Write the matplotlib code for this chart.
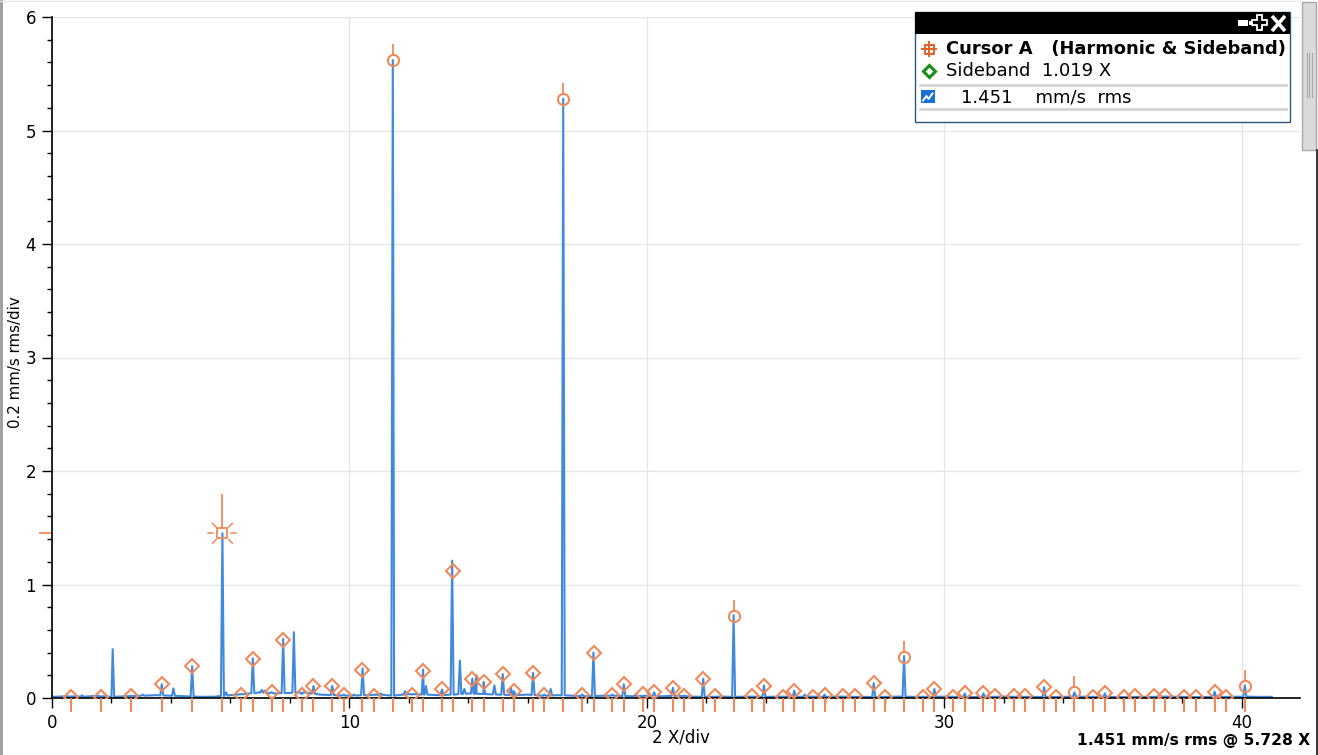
import numpy as np
import matplotlib.pyplot as plt
from matplotlib.patches import Rectangle, Polygon
from matplotlib.ticker import MultipleLocator

W, H = 1318, 755

# cursor readout
FUND = 5.728          # X
SB_SPACING = 1.019    # X
CURSOR_AMP = 1.451    # mm/s rms

# harmonic amplitudes (1x .. 7x fund)
harm_amp = [1.451, 5.62, 5.28, 0.725, 0.365, 0.05, 0.105]

# sideband amplitudes per harmonic, k = -5..-1 and +1..+5
sb_lower = [
    [0.01, 0.01, 0.015, 0.12, 0.28],
    [0.03, 0.05, 0.03, 0.105, 0.25],
    [0.025, 0.075, 0.17, 0.21, 0.22],
    [0.03, 0.03, 0.035, 0.085, 0.17],
    [0.02, 0.01, 0.01, 0.015, 0.13],
    [0.01, 0.01, 0.04, 0.015, 0.095],
    [0.01, 0.01, 0.015, 0.01, 0.055],
]
sb_upper = [
    [0.34, 0.51, 0.105, 0.03, 0.02],
    [0.24, 1.12, 0.14, 0.06, 0.03],
    [0.40, 0.12, 0.05, 0.02, 0.02],
    [0.11, 0.065, 0.03, 0.015, 0.01],
    [0.08, 0.04, 0.015, 0.015, 0.01],
    [0.04, 0.015, 0.015, 0.01, 0.01],
    [],
]

# spectrum: noise floor every 0.5 X, then the peaks on top of it
floor_x = np.arange(0, 41.05, 0.5)
floor_y = [0.010, 0.015, 0.012, 0.018, 0.010, 0.015, 0.020, 0.025, 0.020, 0.015,
           0.010, 0.012, 0.025, 0.035, 0.050, 0.040, 0.045, 0.050, 0.030, 0.025,
           0.020, 0.025, 0.030, 0.020, 0.035, 0.030, 0.025, 0.030, 0.040, 0.035,
           0.030, 0.025, 0.030, 0.020, 0.025, 0.020, 0.015, 0.020, 0.020, 0.015,
           0.020, 0.015, 0.020, 0.012, 0.010, 0.012, 0.010, 0.012, 0.010, 0.012,
           0.010, 0.012, 0.010, 0.012, 0.010, 0.008, 0.010, 0.012, 0.010, 0.010,
           0.012, 0.010, 0.008, 0.010, 0.012, 0.010, 0.010, 0.008, 0.010, 0.012,
           0.010, 0.010, 0.008, 0.010, 0.010, 0.012, 0.010, 0.008, 0.010, 0.010,
           0.012, 0.010, 0.010]

spec_freq = [0.63, 1.0, 1.65, 2.04, 2.67, 3.05, 3.69, 4.08, 4.71,
             5.728, 5.85, 6.36, 6.75, 7.05, 7.15, 7.38, 7.77, 8.13, 8.40,
             8.79, 9.42, 9.80, 10.15, 10.44, 11.05, 11.456, 11.87, 12.09,
             12.475, 12.57, 13.11, 13.45, 13.71, 13.86, 14.13, 14.22, 14.27,
             14.51, 14.87, 15.15, 15.43, 15.53, 16.17, 16.55, 16.76, 17.184,
             17.82, 18.20, 18.84, 19.22, 19.60, 20.24, 20.87, 21.26, 21.89,
             22.912, 23.93, 24.95, 25.30, 25.97, 27.62, 28.64, 29.66, 30.68,
             31.31, 33.35, 34.368, 35.39, 39.08, 40.096]
spec_amp = [0.012, 0.025, 0.012, 0.43, 0.02, 0.03, 0.12, 0.085, 0.28,
            1.451, 0.05, 0.035, 0.35, 0.07, 0.065, 0.05, 0.52, 0.58, 0.035,
            0.105, 0.105, 0.03, 0.03, 0.26, 0.04, 5.62, 0.06, 0.03,
            0.25, 0.105, 0.075, 1.21, 0.33, 0.08, 0.17, 0.11, 0.20,
            0.14, 0.11, 0.21, 0.09, 0.06, 0.22, 0.03, 0.08, 5.28,
            0.03, 0.40, 0.03, 0.12, 0.025, 0.05, 0.09, 0.02, 0.17,
            0.73, 0.11, 0.065, 0.03, 0.03, 0.13, 0.37, 0.08, 0.04,
            0.04, 0.095, 0.05, 0.04, 0.055, 0.11]
X_END = 41.05

BLUE = '#4189dc'
ORANGE = '#f0895c'

# build the trace: floor points plus a narrow spike per peak
hw = 0.05
px = list(floor_x)
py = list(floor_y)
for f, a in zip(spec_freq, spec_amp):
    base = np.interp(f, floor_x, floor_y)
    px += [f - hw, f, f + hw]
    py += [base, a, base]
order = np.argsort(px, kind='stable')
px = np.array(px)[order]
py = np.array(py)[order]
keep = px <= X_END
px, py = px[keep], py[keep]

harm_x = [FUND * (n + 1) for n in range(len(harm_amp))]
sb_x, sb_y = [], []
for n, h in enumerate(harm_x):
    for k, a in zip(range(-5, 0), sb_lower[n]):
        sb_x.append(h + k * SB_SPACING)
        sb_y.append(a)
    for k, a in zip(range(1, 6), sb_upper[n]):
        sb_x.append(h + k * SB_SPACING)
        sb_y.append(a)

fig = plt.figure(figsize=(W / 100, H / 100), dpi=100)
fig.patch.set_facecolor('white')
ax = fig.add_axes([52 / W, 57 / H, 1248 / W, 681 / H])

ax.set_xlim(0, 41.95)
ax.set_ylim(0, 6)
ax.xaxis.set_major_locator(MultipleLocator(10))
ax.xaxis.set_minor_locator(MultipleLocator(2))
ax.yaxis.set_major_locator(MultipleLocator(1))
ax.yaxis.set_minor_locator(MultipleLocator(0.2))
ax.tick_params(which='major', length=7.5, width=1, labelsize=12, pad=4)
ax.tick_params(which='minor', length=3.5, width=1)
ax.set_yticks(range(0, 7))
ax.set_yticklabels([str(v) for v in range(0, 7)])
ax.set_xticks(range(0, 41, 10))
ax.set_xticklabels([str(v) for v in range(0, 41, 10)])
ax.grid(True, which='major', color='#e6e6e6', lw=1)
ax.set_axisbelow(True)
for s in ['top', 'right']:
    ax.spines[s].set_visible(False)
ax.spines['left'].set_linewidth(1.2)
ax.spines['bottom'].set_linewidth(1.2)

ax.plot(px, py, color=BLUE, lw=1.5, zorder=2)

# marker ticks below the axis
all_x = harm_x + sb_x
lc = ax.vlines(all_x, -0.125, 0, color=ORANGE, lw=1.5, zorder=3)
lc.set_clip_on(False)

# sidebands
ax.plot(sb_x, sb_y, 'D', ms=7, mfc='none', mec=ORANGE, mew=1.5, zorder=4)

# harmonics (cursor at 1x drawn separately)
ax.plot(harm_x[1:], harm_amp[1:], 'o', ms=8, mfc='none', mec=ORANGE, mew=1.5, zorder=4)
ax.vlines(harm_x[1:], np.array(harm_amp[1:]) + 0.035, np.array(harm_amp[1:]) + 0.14,
          color=ORANGE, lw=1.3, zorder=4)

# cursor A
ax.plot([FUND], [CURSOR_AMP], 's', ms=7, mfc='none', mec=ORANGE, mew=1.3, zorder=5)
ax.vlines([FUND], CURSOR_AMP + 0.045, CURSOR_AMP + 0.35, color=ORANGE, lw=1.3, zorder=5)
ax.plot([-0.42, -0.08], [CURSOR_AMP, CURSOR_AMP], color=ORANGE, lw=1.3, clip_on=False)

# overlay in pixel coords for the rest
ov = fig.add_axes([0, 0, 1, 1])
ov.set_xlim(0, W)
ov.set_ylim(H, 0)
ov.axis('off')
ov.set_zorder(5)

cx, cy = ax.transData.transform((FUND, CURSOR_AMP))
cy = H - cy
for ang in [0, 45, 135, 180, 225, 315]:
    t = np.deg2rad(ang)
    ov.plot([cx + 9 * np.cos(t), cx + 14 * np.cos(t)],
            [cy - 9 * np.sin(t), cy - 14 * np.sin(t)], color=ORANGE, lw=1.1)

# borders and scrollbar
ov.plot([1, 1], [0, H], color='#9a9a9a', lw=2)
ov.plot([0, 1300], [0.5, 0.5], color='#e8e8e8', lw=1)
ov.add_patch(Rectangle((1302, 2), 14, 148, fc='#dadada', ec='#a8a8a8', lw=1))
for gx in [1306.5, 1309, 1311.5]:
    ov.plot([gx, gx], [53, 97], color='#a8a8a8', lw=0.8)
ov.plot([1316.5, 1316.5], [150, H], color='#111111', lw=1.2)

# cursor info box
ov.add_patch(Rectangle((915, 12), 375, 110, fc='white', ec='#2f5676', lw=1))
ov.add_patch(Rectangle((915, 12), 375, 22, fc='black', ec='black', lw=0))
ov.add_patch(Rectangle((1238, 20), 10, 6, fc='white', lw=0))
ov.add_patch(Rectangle((1249, 21), 2.5, 4, fc='white', lw=0))
plus = [(1257, 15), (1262, 15), (1262, 20), (1267, 20), (1267, 25), (1262, 25),
        (1262, 30), (1257, 30), (1257, 25), (1252, 25), (1252, 20), (1257, 20)]
ov.add_patch(Polygon(plus, closed=True, fc='black', ec='white', lw=1.3))
ov.plot([1272, 1285], [16, 31], color='white', lw=2.6, solid_capstyle='butt')
ov.plot([1272, 1285], [31, 16], color='white', lw=2.6, solid_capstyle='butt')

ov.add_patch(Rectangle((924.5, 44.5), 9, 9, fc='none', ec='#e0622c', lw=1.4))
ov.plot([922, 936], [49, 49], color='#e0622c', lw=1.4)
ov.plot([929, 929], [42, 56], color='#e0622c', lw=1.4)
ov.text(946, 49.5, 'Cursor A   (Harmonic & Sideband)', fontsize=12.9,
        fontweight='bold', va='center', ha='left')
ov.plot([929], [71], 'D', ms=6.5, mfc='none', mec='#1a8a1a', mew=2.2)
ov.text(946, 71.5, 'Sideband  1.019 X', fontsize=13, va='center', ha='left')
ov.plot([920, 1286], [85, 85], color='#d4d4d4', lw=2)
ov.plot([920, 1286], [109, 109], color='#d4d4d4', lw=2)
ov.add_patch(Rectangle((921, 90), 14, 13, fc='#1a6fd6', lw=0))
ov.plot([923, 926.5, 928.5, 932.5], [100.5, 96, 99, 93.5], color='white', lw=1.4)
ov.text(961, 97.5, '1.451    mm/s  rms', fontsize=13, va='center', ha='left')

# axis captions
ov.text(681, 738, '2 X/div', fontsize=12, ha='center', va='center')
ov.text(16, 362, '0.2 mm/s rms/div', fontsize=10.8, rotation=90,
        ha='center', va='center')
ov.text(1310, 740, '1.451 mm/s rms @ 5.728 X', fontsize=11.2,
        fontweight='bold', ha='right', va='center')

fig.savefig('out.png', dpi=100)
